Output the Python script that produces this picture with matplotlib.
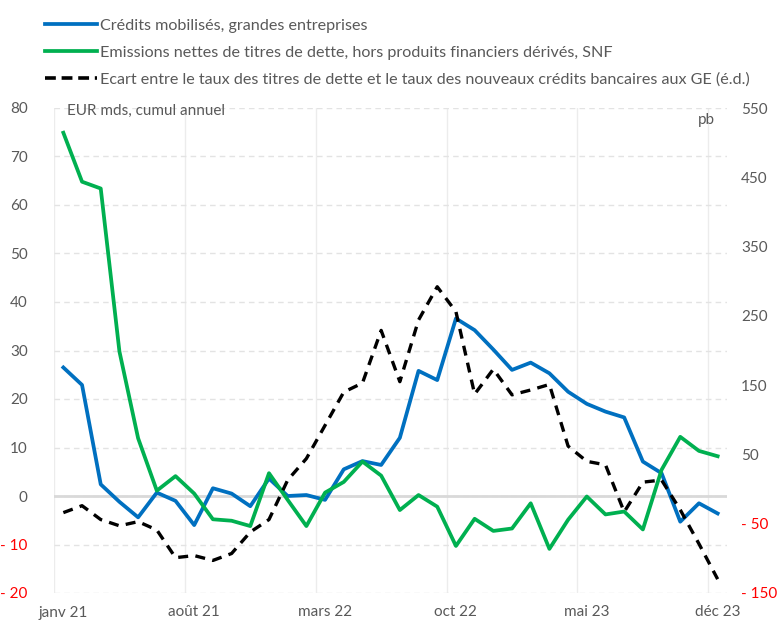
import matplotlib.pyplot as plt
import numpy as np
from matplotlib.ticker import FuncFormatter, FixedLocator
from matplotlib.lines import Line2D

plt.rcParams['font.family'] = ['Lato', 'DejaVu Sans']

# monthly, janv 21 .. déc 23
months = ['janv 21', 'févr 21', 'mars 21', 'avr 21', 'mai 21', 'juin 21', 'juil 21',
          'août 21', 'sept 21', 'oct 21', 'nov 21', 'déc 21',
          'janv 22', 'févr 22', 'mars 22', 'avr 22', 'mai 22', 'juin 22', 'juil 22',
          'août 22', 'sept 22', 'oct 22', 'nov 22', 'déc 22',
          'janv 23', 'févr 23', 'mars 23', 'avr 23', 'mai 23', 'juin 23', 'juil 23',
          'août 23', 'sept 23', 'oct 23', 'nov 23', 'déc 23']

credits_ge = [26.5, 22.9, 2.4, -1.2, -4.4, 0.7, -1.0, -6.0, 1.6, 0.5, -2.1, 3.6,
              0.0, 0.2, -0.8, 5.5, 7.2, 6.4, 12.0, 25.8, 23.9, 36.6, 34.2, 30.2,
              26.0, 27.5, 25.3, 21.5, 19.0, 17.4, 16.2, 7.1, 4.7, -5.3, -1.5, -3.6]

emissions_snf = [74.9, 64.8, 63.4, 29.8, 11.9, 1.1, 4.1, 0.5, -4.8, -5.1, -6.2, 4.7,
                 -0.8, -6.2, 0.7, 2.9, 7.1, 4.2, -2.9, 0.2, -2.2, -10.3, -4.7, -7.2,
                 -6.7, -1.5, -10.9, -4.9, -0.1, -3.8, -3.2, -6.9, 5.4, 12.2, 9.3, 8.2]

ecart_taux = [-34, -24, -44, -53, -47, -59, -99, -96, -103, -93, -62, -44,
              13, 44, 92, 140, 153, 229, 155, 244, 292, 256, 137, 173,
              136, 143, 151, 62, 40, 35, -33, 10, 13, -30, -79, -130]

lab_credits = 'Crédits mobilisés, grandes entreprises'
lab_emis = 'Emissions nettes de titres de dette, hors produits financiers dérivés, SNF'
lab_ecart = 'Ecart entre le taux des titres de dette et le taux des nouveaux crédits bancaires aux GE (é.d.)'

gray = '#595959'
blue = '#0070C0'
green = '#00B050'

fig = plt.figure(figsize=(7.79, 6.24), dpi=100)
ax = fig.add_axes([54/779, 1-593/624, (727-54)/779, (593-108)/624])
ax2 = ax.twinx()

x = np.arange(len(months))
ax.plot(x, credits_ge, color=blue, lw=2.7, zorder=3)
ax.plot(x, emissions_snf, color=green, lw=2.7, zorder=3)
ax2.plot(x, ecart_taux, color='black', lw=2.4, ls=(0, (3, 2.2)), zorder=3)

ax.set_xlim(-0.5, 35.5)
ax.set_ylim(-20, 80)
ax2.set_ylim(-150, 550)
ax.set_yticks(range(-20, 81, 10))
ax2.set_yticks(range(-150, 551, 100))

def fmt(v, pos):
    v = int(round(v))
    return f'- {abs(v)}' if v < 0 else f'{v}'

ax.yaxis.set_major_formatter(FuncFormatter(fmt))
ax2.yaxis.set_major_formatter(FuncFormatter(fmt))

ax.set_xticks(x[::7])
ax.set_xticklabels(months[::7])
ax.xaxis.set_minor_locator(FixedLocator(np.arange(-0.5, 35.6, 7)))
ax.grid(True, which='minor', axis='x', color='#ececec', lw=1)
ax.grid(True, which='major', axis='y', color='#e3e3e3', lw=1, ls=(0, (4, 3)))
ax.axhline(0, color='#d9d9d9', lw=2, zorder=1)
ax.set_axisbelow(True)

ax.tick_params(axis='both', which='both', length=0, labelsize=11, labelcolor=gray)
ax.tick_params(axis='y', pad=19)
ax.tick_params(axis='x', pad=9)
ax2.tick_params(axis='y', length=0, labelsize=11, labelcolor=gray, pad=10)

for t in ax.get_yticklabels():
    if t.get_text().startswith('-'):
        t.set_color('red')
for t in ax2.get_yticklabels():
    if t.get_text().startswith('-'):
        t.set_color('red')

for a in (ax, ax2):
    for s in a.spines.values():
        s.set_visible(False)

ax.text(0.02, 0.995, 'EUR mds, cumul annuel', transform=ax.transAxes,
        fontsize=11, color=gray, va='center', ha='left')
ax.text(0.982, 0.99, 'pb', transform=ax.transAxes,
        fontsize=11, color=gray, va='top', ha='right')

handles = [Line2D([], [], color=blue, lw=2.7),
           Line2D([], [], color=green, lw=2.7),
           Line2D([], [], color='black', lw=2.6, ls=(0, (3, 1.6)))]
fig.legend(handles, [lab_credits, lab_emis, lab_ecart], loc='upper left',
           bbox_to_anchor=(39/779, 1-12/624), frameon=False, fontsize=11.6,
           handlelength=3.2, handletextpad=0.2, labelspacing=0.79,
           labelcolor=gray, borderaxespad=0)

fig.savefig('out.png', dpi=100)
